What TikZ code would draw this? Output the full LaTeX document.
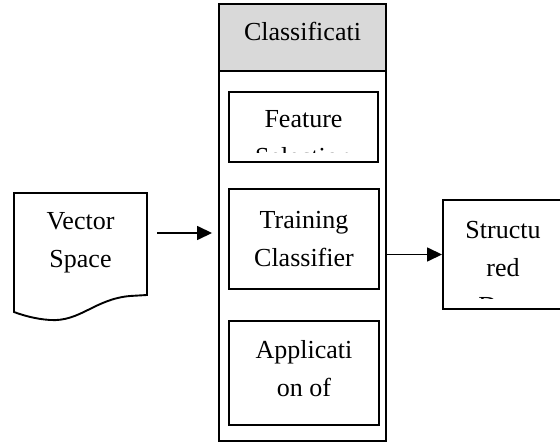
\documentclass[tikz,border=0pt]{standalone}
\usepackage{fontspec}
\setmainfont{Liberation Serif}
\usetikzlibrary{arrows.meta}
\definecolor{headgray}{HTML}{D9D9D9}

\begin{document}
\begin{tikzpicture}[x=1pt,y=-1pt,
  box/.style={draw,line width=1.9pt,inner sep=0pt},
  lbl/.style={align=center,inner sep=0pt,font=\fontsize{26}{38}\selectfont},
  arr/.style={line width=1.5pt,-{Triangle[length=15pt,width=14pt]}}]

\useasboundingbox (0,0) rectangle (560,444);
\clip (0,0) rectangle (560,444);

% classification column
\node[box,minimum width=167pt,minimum height=437pt] (cls) at (302.5,222.5) {};
\node[box,fill=headgray,minimum width=167pt,minimum height=67pt] (head) at (302.5,37.5) {};
\node[lbl] (headtxt) at (302.5,31) {Classificati};

\node[box,minimum width=149pt,minimum height=70pt] (feat) at (303.5,127) {};
\begin{scope}
\clip (229,92) rectangle (378,152);
\node[lbl] (feattxt) at (303.5,138) {Feature\\Selection};
\end{scope}

\node[box,minimum width=150pt,minimum height=100pt] (train) at (304,239) {};
\node[lbl] (traintxt) at (304,239) {Training\\Classifier};

\node[box,minimum width=150pt,minimum height=104pt] (app) at (304,373) {};
\node[lbl] (apptxt) at (304,368.5) {Applicati\\on of};

% input document
\draw[line width=1.9pt] (14,193) -- (147,193) -- (147,295) -- (130,296)
  .. controls (95,299) and (80,322) .. (50,320)
  .. controls (35,319) and (22,315) .. (14,312) -- cycle;
\node[lbl] (vec) at (80.5,243) {Vector\\Space};

% output
\node[box,minimum width=120pt,minimum height=109pt] (struc) at (503,254.5) {};
\begin{scope}
\clip (443,200) rectangle (563,298.5);
\node[lbl] (structxt) at (503,268) {Structu\\red\\Data};
\end{scope}

\coordinate (a1) at (157,233);
\draw[arr,shorten >=6pt] (a1) -- (a1 -| cls.west);
\draw[arr] (struc.west -| cls.east) -- (struc.west);

\end{tikzpicture}
\end{document}
